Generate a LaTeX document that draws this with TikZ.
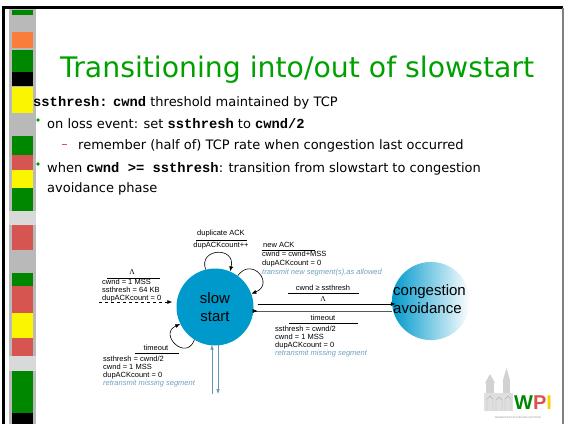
\documentclass[tikz,border=0pt]{standalone}
\usepackage{fontspec}
\setmainfont{DejaVu Sans}
\setsansfont{Liberation Sans}
\setmonofont[Scale=1.06]{Liberation Mono}
\newfontfamily\lamfont{Liberation Serif}
\usetikzlibrary{arrows.meta,positioning}
\definecolor{ssblue}{RGB}{0,153,204}
\definecolor{titlegreen}{RGB}{0,160,0}
\definecolor{notecolor}{RGB}{110,160,190}
\definecolor{wireblue}{RGB}{100,150,180}
\definecolor{sgreen}{RGB}{0,135,0}
\definecolor{sred}{RGB}{215,85,80}
\definecolor{syellow}{RGB}{250,245,0}
\definecolor{sorange}{RGB}{250,125,60}
\newcommand\mono[1]{{\ttfamily\bfseries #1}}
\tikzset{
  tstate/.style={
    circle,
    inner sep=0pt,
    minimum size=77pt,
    align=center,
    font=\sffamily\fontsize{15}{18}\selectfont
  },
  tlbl/.style={inner sep=0pt,font=\sffamily\fontsize{7.5}{8}\selectfont},
  tact/.style={tlbl,align=left,anchor=north west},
  trule/.style={draw=black,line width=0.6pt},
  tflow/.style={-{Latex[length=5pt,width=4pt]},draw=black,line width=0.6pt},
  twire/.style={-{Latex[length=5pt,width=3.5pt]},draw=wireblue,line width=0.6pt},
  body/.style={inner sep=0pt,anchor=base west,font=\fontsize{13}{15}\selectfont}
}
\begin{document}
\begin{tikzpicture}[x=1pt,y=-1pt]
  \useasboundingbox (0,0) rectangle (565,424);
  % slide frame and colour strip
  \fill[gray!55] (9,8) rectangle (36,424);
  \fill[gray!30] (9,211) rectangle (36,225);
  \fill[gray!30] (9,356) rectangle (36,371);
  \foreach \ya/\yb/\c in {10/15/sgreen,32/48/sorange,50/72/sgreen,72/86/black,
      87/113/syellow,136/155/sgreen,155/170/sred,170/188/syellow,188/211/sgreen,
      225/250/sred,273/286/sgreen,286/313/sred,313/338/syellow,338/356/sred,
      371/413/sgreen,413/424/black}
    \fill[\c] (12,\ya) rectangle (33,\yb);
  \draw[black,line width=3pt] (3,424) -- (3,7) -- (563,7);
  \draw[gray,line width=1.5pt] (563,8) -- (563,424);

  % title and bullets
  \node[inner sep=0pt,anchor=base west,text=titlegreen,font=\fontsize{28.3}{32}\selectfont]
    (title) at (60,77) {Transitioning into/out of slowstart};
  \node[body] (def) at (33,106) {\mono{ssthresh:} \mono{cwnd} threshold maintained by TCP};
  \node[body] (loss) at (47,128) {on loss event: set \mono{ssthresh} to \mono{cwnd/2}};
  \node[body] (half) at (78,149) {remember (half of) TCP rate when congestion last occurred};
  \node[body] (when) at (47,172) {when \mono{cwnd >= ssthresh}: transition from slowstart to congestion};
  \node[body] (phase) at (47,192) {avoidance phase};
  \fill[titlegreen] (38,120) circle (1.8pt);
  \fill[titlegreen] (38,164) circle (1.8pt);
  \draw[sred,line width=1pt] (62,144.5) -- (67,144.5);

  % states
  \node[tstate,fill=ssblue] (slow) at (215,307) {slow\\start};
  \node[tstate,shading=axis,left color=ssblue,right color=white,shading angle=90]
    (cong) at (431,301) {\hspace*{-3pt}\begin{tabular}{@{}l@{}}congestion\\avoidance\end{tabular}};

  % initial transition
  \coordinate (init) at (99,302);
  \draw[tflow,dashed] (init) -- ([xshift=-4pt,yshift=5pt]slow.west);
  \node[tlbl,font=\lamfont\fontsize{7.5}{8}\selectfont] (initev) at (132,272) {Λ};
  \draw[trule] (107,278) -- (160,278);
  \node[tact] (initact) at (102,279) {cwnd = 1 MSS\\ssthresh = 64 KB\\dupACKcount = 0};

  % duplicate ACK
  \draw[tflow] (slow.104) .. controls (198,248) and (236,246) .. (slow.67);
  \node[tlbl] (dupev) at (221,234) {duplicate ACK};
  \draw[trule] (196,240) -- (247,240);
  \node[tlbl] (dupact) at (221,245.5) {dupACKcount++};

  % new ACK
  \draw[tflow] (slow.54) .. controls (252,256) and (275,284) .. (slow.20);
  \node[tlbl,anchor=west] (newev) at (263,245) {new ACK};
  \draw[trule] (262,250) -- (315,250);
  \node[tact,font=\sffamily\fontsize{7.5}{9}\selectfont] (newact) at (262,251)
    {cwnd = cwnd+MSS\\dupACKcount = 0\\{\itshape\color{notecolor}transmit new segment(s),as allowed}};

  % timeout in slow start
  \draw[tflow] (slow.238) .. controls (186,362) and (158,334) .. (slow.206);
  \node[tlbl] (toev) at (156,348) {timeout};
  \draw[trule] (135,353) -- (179,353);
  \node[tact,font=\sffamily\fontsize{7.5}{7.8}\selectfont] (toact) at (103,356)
    {ssthresh = cwnd/2\\cwnd = 1 MSS\\dupACKcount = 0\\{\itshape\color{notecolor}retransmit missing segment}};

  % slow start <-> congestion avoidance
  \draw[tflow] ([xshift=4pt,yshift=3pt]slow.east) -- ([xshift=4pt,yshift=3pt]slow.east -| cong.west);
  \draw[tflow] ([yshift=-10pt]cong.west) -- ([yshift=-10pt]cong.west -| slow.east) -- +(4,0);
  \node[tlbl] (caev) at (323,288) {cwnd ≥ ssthresh};
  \draw[trule] (288,293) -- (359,293);
  \node[tlbl,font=\lamfont\fontsize{7.5}{8}\selectfont] (caact) at (323,299) {Λ};
  \node[tlbl] (cato) at (323,318) {timeout};
  \draw[trule] (289,323) -- (358,323);
  \node[tact] (catoact) at (275,326)
    {ssthresh = cwnd/2\\cwnd = 1 MSS\\dupACKcount = 0\\{\itshape\color{notecolor}retransmit missing segment}};

  % wires below slow start
  \coordinate (wirein) at (212,394);
  \coordinate (wireout) at (218,394);
  \draw[twire] (wirein) -- ([xshift=-3pt,yshift=1pt]slow.south);
  \draw[twire] ([xshift=3pt,yshift=1pt]slow.south) -- (wireout);

  % logo
  \fill[gray!25] (484,393) rectangle (513,411);
  \fill[gray!35] (486,383) rectangle (494,393);
  \fill[gray!35] (485,383) -- (490,374) -- (495,383) -- cycle;
  \fill[gray!35] (503,380) rectangle (510,393);
  \fill[gray!35] (503,380) -- (506.5,368) -- (510,380) -- cycle;
  \draw[gray!60,line width=0.4pt] (487,411) -- (487,399) -- (490,396) -- (493,399) -- (493,411)
    (496,411) -- (496,400) -- (499,397) -- (502,400) -- (502,411)
    (505,411) -- (505,399) -- (508,396) -- (511,399) -- (511,411);
  \node[inner sep=0pt,anchor=base west,font=\sffamily\bfseries\fontsize{20}{20}\selectfont]
    (wpi) at (514,409) {\textcolor{sgreen}{W}\textcolor{sred}{P}\textcolor{syellow!70!orange}{I}};
  \node[inner sep=0pt,text=gray,font=\sffamily\fontsize{2.4}{3}\selectfont] (wpitag) at (518,418)
    {WORCESTER POLYTECHNIC INSTITUTE};
\end{tikzpicture}
\end{document}
